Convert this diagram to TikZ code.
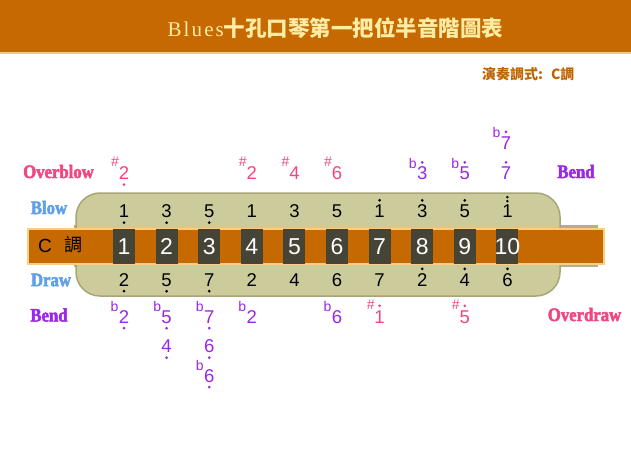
\documentclass[tikz,border=0pt]{standalone}
\usepackage{fontspec}
\usepackage{graphicx}
\setmainfont{Liberation Sans}
\newfontfamily\cjk{Noto Sans CJK TC}
\newfontfamily\bluesfont[LetterSpace=10]{Liberation Serif}
\newfontfamily\lblf[FakeStretch=0.88,BoldFeatures={FakeBold=2.5}]{Liberation Serif}
\newcommand\fs[1]{\fontsize{#1}{#1}\selectfont}
\definecolor{headc}{RGB}{197,105,0}
\definecolor{headline}{RGB}{245,200,120}
\definecolor{creamc}{RGB}{255,236,165}
\definecolor{modec}{RGB}{190,100,0}
\definecolor{beigec}{RGB}{204,203,156}
\definecolor{beigeedge}{RGB}{168,166,118}
\definecolor{stripc}{RGB}{178,176,135}
\definecolor{bandc}{RGB}{197,105,0}
\definecolor{bandedge}{RGB}{250,205,130}
\definecolor{holec}{RGB}{69,68,55}
\definecolor{pinkc}{RGB}{240,70,130}
\definecolor{purplec}{RGB}{155,40,230}
\definecolor{bluec}{RGB}{95,160,230}
\tikzset{
  note/.style={inner sep=0pt, font=\fs{18.5}, text height=13.3pt, text depth=0pt},
  acc/.style={inner sep=0pt, font=\fs{14}, anchor=base east},
  lbl/.style={inner sep=0pt, font=\lblf\bfseries\fs{19}},
  holebox/.style={fill=holec, minimum width=22pt, minimum height=34.5pt, inner sep=0pt},
  holenum/.style={inner sep=0pt, text=white, font=\fs{23}, text height=16.5pt, text depth=0pt},
}
\newcommand\dbelow[2]{\fill[#2] ([yshift=-4.8pt]#1.south) circle (1.5pt);}
\newcommand\dabove[2]{\fill[#2] ([yshift=3.8pt]#1.north) circle (1.5pt);}
\newcommand\dtwo[2]{\fill[#2] ([yshift=3pt]#1.north) circle (1.4pt); \fill[#2] ([yshift=7pt]#1.north) circle (1.4pt);}
\newcommand\shp[2]{\node[acc,text=#2] (#1s) at ([xshift=0.5pt]#1.north west) {\#};}
\newcommand\flt[2]{\node[acc,text=#2] (#1f) at ([yshift=-2pt]#1.north west) {b};}
\begin{document}
\begin{tikzpicture}[x=1pt,y=-1pt]
\useasboundingbox (0,0) rectangle (631,474);
% header
\fill[white] (0,0) rectangle (631,474);
\fill[headc] (0,0) rectangle (631,52);
\fill[headline] (0,52) rectangle (631,54);
\node[inner sep=0pt, text=creamc] (title) at (335.5,28)
  {{\bluesfont\fs{21}Blues}{\cjk\bfseries\fs{21.5}十孔口琴第一把位半音階圖表}};
\node[inner sep=0pt, anchor=west, text=modec, font=\cjk\bfseries\fs{14}] (mode) at (482,74) {演奏調式:\hspace{8pt}C調};
% harmonica body
\fill[stripc] (74,225) rectangle (598,267);
\draw[fill=beigec, draw=beigeedge, line width=1.5pt, rounded corners=24pt] (76,193) rectangle (560,262);
\draw[fill=beigec, draw=beigeedge, line width=1.5pt, rounded corners=24pt] (76,230) rectangle (560,296);
\draw[fill=bandc, draw=bandedge, line width=2pt] (28,229) rectangle (604,264);
\node[inner sep=0pt, font=\fs{19}, text height=13.6pt, text depth=0pt] (ckey) at (45,245.5) {C};
\node[inner sep=0pt, font=\cjk\fs{18}] (ckey2) at (73.5,245) {調};
\foreach \i in {1,...,10}{
  \node[holebox] (h\i) at ({124+42.6*(\i-1)},246.5) {};
  \node[holenum] (n\i) at (h\i) {\i};
}
% labels
\node[lbl,text=pinkc] (lob) at (58.5,171.5) {Overblow};
\node[lbl,text=bluec] (lblow) at (49,207.5) {Blow};
\node[lbl,text=bluec] (ldraw) at (51,280) {Draw};
\node[lbl,text=purplec] (lbend) at (49,315) {Bend};
\node[lbl,text=purplec] (rbend) at (576,171.5) {Bend};
\node[lbl,text=pinkc] (lod) at (584.5,314.5) {Overdraw};
% blow row
\foreach \i/\d in {1/1,2/3,3/5,4/1,5/3,6/5,7/1,8/3,9/5,10/1}{
  \node[note] (b\i) at ({124+42.6*(\i-1)},211) {\d};
}
\dbelow{b1}{black}\dbelow{b2}{black}\dbelow{b3}{black}
\dabove{b7}{black}\dabove{b8}{black}\dabove{b9}{black}
\dtwo{b10}{black}
% draw row
\foreach \i/\d in {1/2,2/5,3/7,4/2,5/4,6/6,7/7,8/2,9/4,10/6}{
  \node[note] (d\i) at ({124+42.6*(\i-1)},279.5) {\d};
}
\dbelow{d1}{black}\dbelow{d2}{black}\dbelow{d3}{black}
\dabove{d8}{black}\dabove{d9}{black}\dabove{d10}{black}
% overblow
\node[note,text=pinkc] (ob1) at (124,173) {2}; \shp{ob1}{pinkc} \dbelow{ob1}{pinkc}
\node[note,text=pinkc] (ob4) at (251.8,173) {2}; \shp{ob4}{pinkc}
\node[note,text=pinkc] (ob5) at (294.4,173) {4}; \shp{ob5}{pinkc}
\node[note,text=pinkc] (ob6) at (337,173) {6}; \shp{ob6}{pinkc}
% blow bends
\node[note,text=purplec] (bt8) at (422.2,173) {3}; \flt{bt8}{purplec} \dabove{bt8}{purplec}
\node[note,text=purplec] (bt9) at (464.8,173) {5}; \flt{bt9}{purplec} \dabove{bt9}{purplec}
\node[note,text=purplec] (bt10) at (506,173) {7}; \dabove{bt10}{purplec}
\node[note,text=purplec] (bt10b) at (506,142.5) {7}; \flt{bt10b}{purplec} \dabove{bt10b}{purplec}
% draw bends
\node[note,text=purplec] (bd1) at (124,316.5) {2}; \flt{bd1}{purplec} \dbelow{bd1}{purplec}
\node[note,text=purplec] (bd2) at (166.6,316.5) {5}; \flt{bd2}{purplec} \dbelow{bd2}{purplec}
\node[note,text=purplec] (bd3) at (209.2,316.5) {7}; \flt{bd3}{purplec} \dbelow{bd3}{purplec}
\node[note,text=purplec] (bd4) at (251.8,316.5) {2}; \flt{bd4}{purplec}
\node[note,text=purplec] (bd6) at (337,316.5) {6}; \flt{bd6}{purplec}
\node[note,text=purplec] (bd2b) at (166.6,346) {4}; \dbelow{bd2b}{purplec}
\node[note,text=purplec] (bd3b) at (209.2,346) {6}; \dbelow{bd3b}{purplec}
\node[note,text=purplec] (bd3c) at (209.2,375.5) {6}; \flt{bd3c}{purplec} \dbelow{bd3c}{purplec}
% overdraw
\node[note,text=pinkc] (od7) at (379.6,316.5) {1}; \shp{od7}{pinkc} \dabove{od7}{pinkc}
\node[note,text=pinkc] (od9) at (464.8,316.5) {5}; \shp{od9}{pinkc} \dabove{od9}{pinkc}
\end{tikzpicture}
\end{document}
